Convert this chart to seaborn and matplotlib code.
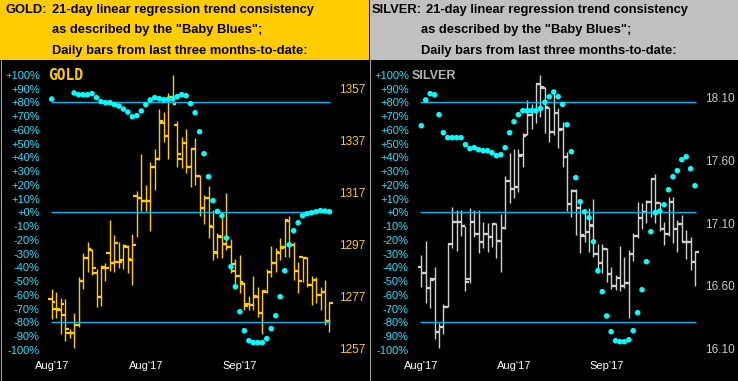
"""
Gold / Silver "Baby Blues" panel
================================

To paneler med daglige OHLC-barer (høyre akse, pris) og 21-dagers
lineær regresjons-trendkonsistens (venstre akse, prosent).
"""

import numpy as np
import matplotlib
matplotlib.use("Agg")
import matplotlib.pyplot as plt
from matplotlib.patches import Rectangle
from matplotlib.lines import Line2D
import seaborn as sns

W, H = 738, 381

# --- Data ---------------------------------------------------------------
date_ticks = [0, 21, 42]
date_labels = ["Aug'17", "Aug'17", "Sep'17"]
pct_ticks = list(range(-100, 101, 10))
band_levels = [80, 0, -80]

gold_open = [1276.0, 1272.4, 1272.0, 1270.0, 1263.0, 1263.0, 1266.0, 1283.0, 1292.0, 1295.0,
             1286.0, 1277.0, 1288.6, 1293.7, 1290.0, 1290.5, 1291.0, 1296.0, 1291.0, 1315.9,
             1315.0, 1313.9, 1314.0, 1327.0, 1330.0, 1344.0, 1339.0, 1354.0, 1343.0, 1330.0,
             1336.0, 1327.0, 1333.7, 1323.5, 1311.0, 1315.0, 1304.0, 1294.0, 1300.0, 1297.1,
             1296.0, 1289.6, 1285.0, 1282.0, 1274.1, 1274.0, 1277.0, 1270.6, 1279.0, 1286.4,
             1290.0, 1294.0, 1296.0, 1306.0, 1297.0, 1287.0, 1292.1, 1292.0, 1281.6, 1283.4,
             1277.8, 1279.0, 1267.5]
gold_high = [1280.0, 1278.7, 1276.4, 1276.1, 1264.6, 1270.6, 1284.7, 1293.9, 1298.0, 1295.5,
             1287.5, 1289.2, 1290.0, 1306.6, 1300.7, 1298.0, 1297.1, 1297.0, 1301.1, 1317.6,
             1331.8, 1320.0, 1328.9, 1334.0, 1349.2, 1347.9, 1355.2, 1362.3, 1344.6, 1338.3,
             1341.5, 1334.3, 1337.9, 1324.0, 1316.0, 1319.5, 1310.4, 1301.6, 1308.0, 1316.8,
             1299.1, 1291.4, 1293.0, 1282.5, 1277.3, 1285.0, 1280.8, 1279.2, 1287.5, 1296.5,
             1295.6, 1299.5, 1306.4, 1308.0, 1298.2, 1290.5, 1292.4, 1292.4, 1285.0, 1284.7,
             1280.8, 1283.4, 1274.7]
gold_low = [1268.3, 1268.9, 1262.8, 1259.8, 1261.1, 1257.1, 1265.5, 1280.1, 1286.6, 1285.5,
            1272.9, 1273.3, 1283.0, 1286.9, 1286.5, 1288.0, 1287.6, 1286.0, 1281.4, 1300.0,
            1310.0, 1310.0, 1302.4, 1318.0, 1329.5, 1336.4, 1330.0, 1350.9, 1327.0, 1326.6,
            1324.4, 1319.3, 1320.0, 1308.2, 1305.0, 1299.5, 1291.1, 1292.0, 1291.8, 1294.9,
            1286.0, 1280.9, 1278.3, 1271.9, 1271.9, 1271.9, 1269.3, 1262.7, 1278.3, 1284.7,
            1286.6, 1291.1, 1292.4, 1292.4, 1283.4, 1278.6, 1282.8, 1280.8, 1273.8, 1274.5,
            1271.9, 1266.1, 1263.6]
gold_close = [1274.8, 1272.4, 1274.3, 1264.6, 1263.0, 1266.1, 1283.2, 1292.0, 1295.2, 1287.9,
              1277.0, 1288.0, 1288.0, 1290.1, 1297.5, 1290.5, 1296.6, 1291.5, 1296.9, 1315.1,
              1313.9, 1313.9, 1326.8, 1329.8, 1344.6, 1338.9, 1354.0, 1351.0, 1331.8, 1336.0,
              1327.0, 1333.7, 1323.5, 1311.0, 1315.1, 1304.3, 1294.3, 1300.5, 1297.1, 1296.0,
              1287.0, 1285.0, 1282.5, 1273.4, 1274.0, 1277.3, 1270.6, 1279.2, 1286.4, 1290.1,
              1294.1, 1295.9, 1306.4, 1297.0, 1287.0, 1282.9, 1292.0, 1281.6, 1283.4, 1277.8,
              1278.9, 1267.5, 1274.7]
gold_trend = [82.4, np.nan, np.nan, np.nan, np.nan, 86.8, 85.5, 85.5, 85.5, 86.3,
              83.4, 80.5, 79.7, 79.7, 78.3, 77.3, 75.1, 72.9, 69.5, 70.3,
              73.7, 78.3, 81.7, 83.4, 82.6, 81.9, 82.2, 82.6, 84.1, 85.5,
              84.8, 79.0, 72.4, 58.6, 42.6, 25.9, 8.5, 0.7, -2.5, -18.7,
              -39.5, -54.1, -72.3, -86.1, -93.4, -94.8, -94.8, -94.8, -91.9, -84.6,
              -75.2, -61.4, -42.5, -23.6, -13.4, -7.6, -2.5, -1.0, -0.3, 0.4,
              1.2, 0.9, 0.4]
gold_price_ticks = [1257, 1277, 1297, 1317, 1337, 1357]

silver_open = [16.75, 16.70, 16.58, 16.65, 16.233, 16.267, 16.433, 16.933, 17.111, 17.11,
               17.077, 16.65, 17.11, 17.013, 16.952, 17.013, 16.99, 17.09, 16.96, 17.06,
               17.44, 17.37, 17.39, 17.64, 17.80, 17.96, 18.0, 18.21, 18.18, 18.02,
               17.83, 17.98, 17.85, 17.63, 17.25, 17.36, 17.22, 17.0, 17.03, 17.08,
               16.85, 16.78, 16.89, 16.69, 16.60, 16.66, 16.60, 16.62, 16.85, 17.0,
               17.14, 17.19, 17.27, 17.45, 17.26, 17.05, 17.01, 17.27, 17.05, 17.09,
               16.95, 16.95, 16.79]
silver_high = [16.845, 16.957, 16.672, 16.747, 16.305, 16.451, 16.938, 17.23, 17.205, 17.205,
               17.08, 17.22, 17.205, 17.205, 17.111, 17.098, 17.098, 17.098, 17.173, 17.476,
               17.657, 17.692, 17.689, 17.817, 18.083, 18.05, 18.216, 18.283, 18.19, 18.03,
               18.150, 18.017, 17.905, 17.670, 17.370, 17.37, 17.29, 17.20, 17.22, 17.292,
               16.933, 16.930, 16.898, 16.747, 16.685, 16.917, 16.83, 16.885, 17.024, 17.271,
               17.258, 17.284, 17.457, 17.492, 17.271, 17.111, 17.311, 17.311, 17.125, 17.165,
               17.045, 16.992, 16.872]
silver_low = [16.592, 16.459, 16.425, 16.172, 16.102, 16.212, 16.43, 16.90, 16.880, 17.0,
              16.560, 16.62, 16.992, 16.858, 16.90, 16.872, 16.912, 16.819, 16.712, 17.05,
              17.258, 17.30, 17.35, 17.55, 17.80, 17.85, 17.90, 17.95, 17.82, 17.75,
              17.80, 17.70, 17.55, 17.20, 17.15, 17.005, 16.864, 16.95, 16.872, 16.832,
              16.699, 16.70, 16.632, 16.571, 16.566, 16.558, 16.58, 16.345, 16.80, 16.98,
              17.05, 17.10, 17.15, 17.10, 17.04, 16.925, 17.0, 16.938, 16.872, 16.95,
              16.811, 16.725, 16.598]
silver_close = [16.704, 16.579, 16.646, 16.233, 16.267, 16.433, 16.933, 17.111, 17.111, 17.077,
                16.627, 17.111, 17.013, 16.952, 17.013, 16.992, 17.090, 16.960, 17.058, 17.44,
                17.372, 17.391, 17.639, 17.798, 17.963, 17.998, 18.211, 18.184, 18.025, 17.830,
                17.977, 17.843, 17.631, 17.252, 17.359, 17.218, 17.005, 17.032, 17.085, 16.850,
                16.784, 16.890, 16.691, 16.598, 16.659, 16.598, 16.619, 16.850, 16.997, 17.138,
                17.191, 17.271, 17.450, 17.258, 17.050, 17.013, 17.271, 17.05, 17.093, 16.952,
                16.952, 16.792, 16.872]
silver_trend = [63.0, 81.7, 86.3, 85.5, 71.0, 57.9, 54.3, 54.3, 54.3, 54.3,
                49.2, 46.3, 47.0, 45.5, 44.8, 44.8, 43.3, 41.2, 41.9, 47.0,
                57.9, 65.9, 71.0, 73.9, 73.9, 73.9, 73.9, 75.6, 80.0, 84.1,
                87.5, 84.1, 78.5, 63.7, 44.1, 25.2, 7.7, 0.4, -3.9, -21.4,
                -42.5, -57.7, -75.4, -86.8, -93.4, -94.1, -94.1, -92.7, -86.1, -73.0,
                -56.3, -35.9, -14.1, -0.3, 0.9, 5.5, 16.4, 25.9, 30.3, 38.3,
                40.4, 31.7, 19.3]
silver_price_ticks = [16.10, 16.60, 17.10, 17.60, 18.10]

# Farger
GOLD_YELLOW = "#FFCC00"
SILVER_GRAY = "#C0C0C0"
BAR_SILVER = "#D0D0D0"
DOT_CYAN = "#00FFFF"
LINE_BLUE = "#00B8F0"
PCT_LABEL = "#22E4FF"


def px_rect(x0, y0, x1, y1):
    """Pikselboks (fra øvre venstre hjørne) -> figurbrøk [l, b, w, h]."""
    return [x0 / W, 1 - y1 / H, (x1 - x0) / W, (y1 - y0) / H]


def draw_panel(fig, box, first_px, last_px, o, h, l, c, trend,
               bar_color, price_ticks, price_fmt, price_color, price_of_px):
    """Tegner ett panel: OHLC-barer på prisaksen, prikker på prosentaksen."""
    x0, y0, x1, y1 = box
    n = len(c)
    idx = np.arange(n)
    step = (last_px - first_px) / (n - 1)
    xlim = (-(first_px - x0) / step, (n - 1) + (x1 - last_px) / step)

    ax = fig.add_axes(px_rect(*box))
    axp = ax.twinx()  # prosentakse oppå barene
    ax.set_facecolor("black")
    axp.set_facecolor("none")

    # Prisakse til høyre
    ax.set_xlim(xlim)
    ax.set_ylim(price_of_px(y1), price_of_px(y0))
    ax.vlines(idx, l, h, color=bar_color, lw=1.0)
    ax.hlines(o, idx - 0.8, idx, color=bar_color, lw=1.6)
    ax.hlines(c, idx, idx + 0.8, color=bar_color, lw=1.6)
    ax.yaxis.tick_right()
    ax.set_yticks(price_ticks)
    ax.set_yticklabels([price_fmt.format(v) for v in price_ticks])
    ax.tick_params(axis="y", which="both", left=False, labelleft=False,
                   right=False, labelright=True, length=0, pad=3,
                   colors=price_color, labelsize=8.5)
    ax.set_xticks(date_ticks)
    ax.set_xticklabels(date_labels)
    ax.tick_params(axis="x", length=0, pad=1, colors="white", labelsize=8)

    # Trendkonsistens til venstre
    axp.set_ylim((212.3 - y1) / 1.375, (212.3 - y0) / 1.375)
    axp.set_yticks(pct_ticks)
    axp.set_yticklabels([f"{v:+d}%" for v in pct_ticks])
    axp.tick_params(axis="y", which="both", left=False, labelleft=True,
                    right=False, labelright=False, length=0, pad=3,
                    colors=PCT_LABEL, labelsize=8)
    axp.hlines(band_levels, -0.2, n - 1 + 0.2, color=LINE_BLUE, lw=1.0)
    sns.scatterplot(x=idx, y=trend, ax=axp, color=DOT_CYAN, s=16,
                    edgecolor="none", legend=False, zorder=5)
    axp.set_xlim(xlim)

    for a in (ax, axp):
        for sp in a.spines.values():
            sp.set_visible(False)
        a.grid(False)
        a.set_xlabel("")
        a.set_ylabel("")
    return ax, axp


def header(fig, x0, x1, color, name, name_x, text_x, first_line):
    """Farget tittelfelt med tre tekstlinjer."""
    fig.patches.append(Rectangle((x0 / W, 1 - 60 / H), (x1 - x0) / W, 60 / H,
                                 transform=fig.transFigure, facecolor=color,
                                 edgecolor="none", zorder=0))
    kw = dict(color="black", fontsize=9.3, fontweight="bold", va="center",
              family="Liberation Sans")
    fig.text(name_x / W, 1 - 10 / H, name, **kw)
    fig.text(first_line / W, 1 - 10 / H,
             "21-day linear regression trend consistency", **kw)
    fig.text(text_x / W, 1 - 30.5 / H, 'as described by the "Baby Blues";', **kw)
    fig.text(text_x / W, 1 - 51 / H, "Daily bars from last three months-to-date:", **kw)


def main():
    sns.set_theme(style="dark")
    plt.rcParams["font.family"] = ["Liberation Sans", "DejaVu Sans"]

    fig = plt.figure(figsize=(W / 100, H / 100), dpi=100, facecolor="black")

    header(fig, 0, 369, GOLD_YELLOW, "GOLD:", 5, 52, 52)
    header(fig, 370, W, SILVER_GRAY, "SILVER:", 372, 420.7, 426)

    draw_panel(fig, (44, 64, 335, 360), 51.7, 329.5,
               gold_open, gold_high, gold_low, gold_close, gold_trend,
               GOLD_YELLOW, gold_price_ticks, "{:d}", GOLD_YELLOW,
               lambda y: 1257 + (348.7 - y) / 2.6)
    draw_panel(fig, (413, 64, 701, 360), 421.3, 695.0,
               silver_open, silver_high, silver_low, silver_close, silver_trend,
               BAR_SILVER, silver_price_ticks, "{:.2f}", "#C8C8C8",
               lambda y: 16.10 + (348.3 - y) / 125.2)

    # Navn inne i panelene
    fig.text(48 / W, 1 - 76 / H, "GOLD", color=GOLD_YELLOW, fontsize=10.5,
             family="DejaVu Sans Mono", fontweight="bold", va="center")
    fig.text(411.7 / W, 1 - 76 / H, "SILVER", color="#B4B4B4", fontsize=9,
             fontweight="bold", va="center")

    # Grå skillelinjer
    for xp in (0.5, 369.5):
        fig.add_artist(Line2D([xp / W, xp / W], [0, 1 - 60 / H],
                              color="#A0A0A0", lw=0.8))

    fig.savefig("out.png", dpi=100, facecolor="black")
    plt.close(fig)


if __name__ == "__main__":
    main()
